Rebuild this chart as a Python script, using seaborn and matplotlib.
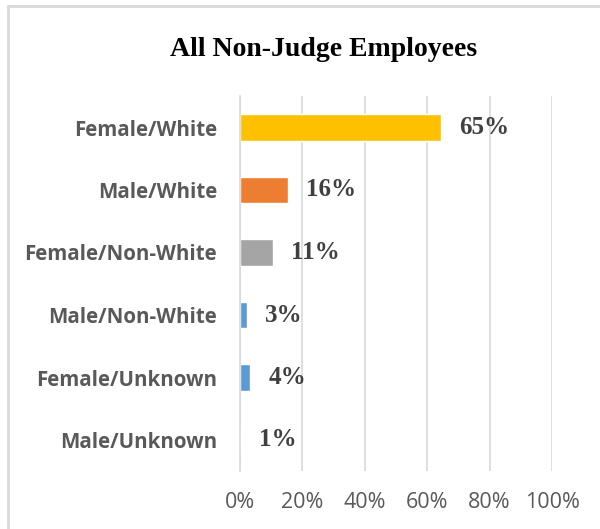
import matplotlib
matplotlib.use("Agg")
import matplotlib.pyplot as plt
from matplotlib.lines import Line2D
import seaborn as sns
import pandas as pd

categories = ["Female/White", "Male/White", "Female/Non-White",
              "Male/Non-White", "Female/Unknown", "Male/Unknown"]
values = [0.645, 0.155, 0.105, 0.023, 0.033, 0.004]
value_labels = ["65%", "16%", "11%", "3%", "4%", "1%"]
colors = ["#FFC000", "#ED7D31", "#A5A5A5", "#5B9BD5", "#5B9BD5", "#5B9BD5"]
x_ticks = [0, 0.2, 0.4, 0.6, 0.8, 1.0]
x_tick_labels = ["0%", "20%", "40%", "60%", "80%", "100%"]
title = "All Non-Judge Employees"

df = pd.DataFrame({"category": categories, "value": values})

sns.set_theme(style="white")
W, H = 600, 529
fig = plt.figure(figsize=(W / 100, H / 100), dpi=100)
ax = fig.add_axes([240 / W, 1 - 471.25 / H, 312 / W, 375 / H])

sns.barplot(data=df, x="value", y="category", hue="category", palette=colors,
            order=categories, hue_order=categories, legend=False,
            width=0.43, orient="h", ax=ax, saturation=1)

ax.set_xlim(0, 1.0)
ax.set_ylim(len(categories) - 0.5, -0.5)
ax.set_xticks(x_ticks)
ax.set_xticklabels(x_tick_labels, fontfamily="Open Sans", fontsize=15.5, color="#595959")
ax.set_xlabel("")
ax.set_ylabel("")
ax.grid(axis="x", color="#D9D9D9", linewidth=1.2)
ax.set_axisbelow(True)
for s in ["top", "right", "bottom"]:
    ax.spines[s].set_visible(False)
ax.spines["left"].set_color("#D9D9D9")
ax.spines["left"].set_linewidth(1.2)
ax.tick_params(axis="x", length=0, pad=15)
ax.tick_params(axis="y", which="major", length=0, pad=16.5)
ax.set_yticks([i + 0.5 for i in range(len(categories) - 1)], minor=True)
ax.tick_params(axis="y", which="minor", length=6, color="#D9D9D9", width=1.2)
for lab in ax.get_yticklabels():
    lab.set_fontfamily("Open Sans")
    lab.set_fontweight("bold")
    lab.set_fontsize(14.8)
    lab.set_color("#595959")

for i, (v, t) in enumerate(zip(values, value_labels)):
    ax.annotate(t, xy=(v, i), xytext=(13, 0), textcoords="offset points",
                ha="left", va="center", fontfamily="Liberation Serif",
                fontweight="bold", fontsize=18, color="#404040")

fig.text(324 / W, 1 - 49 / H, title, ha="center", va="center",
         fontfamily="Liberation Serif", fontweight="bold", fontsize=20, color="black")

fig.add_artist(Line2D([7.5 / W, 7.5 / W], [0, 1 - 5.5 / H], transform=fig.transFigure,
                      color="#D9D9D9", linewidth=2))
fig.add_artist(Line2D([7.5 / W, 1], [1 - 5.5 / H, 1 - 5.5 / H], transform=fig.transFigure,
                      color="#D9D9D9", linewidth=2))

fig.savefig("out.png", dpi=100)
